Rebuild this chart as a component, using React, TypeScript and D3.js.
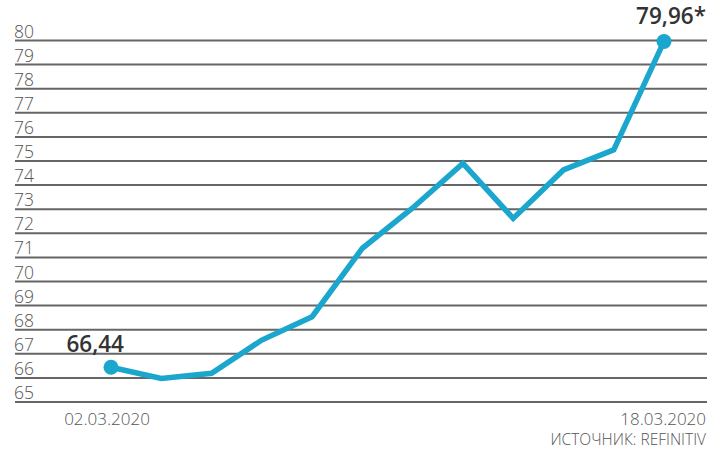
import React from "react";
import * as d3 from "d3";

const dates = ["02.03.2020", "03.03.2020", "04.03.2020", "05.03.2020", "06.03.2020", "10.03.2020", "11.03.2020", "12.03.2020", "13.03.2020", "16.03.2020", "17.03.2020", "18.03.2020"];
const values = [66.44, 65.98, 66.19, 67.57, 68.54, 71.38, 73.05, 74.9, 72.62, 74.63, 75.46, 79.96];
const yTicks = [65, 66, 67, 68, 69, 70, 71, 72, 73, 74, 75, 76, 77, 78, 79, 80];
const firstLabel = "66,44";
const lastLabel = "79,96*";
const sourceText = "ИСТОЧНИК: REFINITIV";

const W = 711;
const H = 450;
const FONT = "'Open Sans', 'Liberation Sans', sans-serif";

export default function App() {
  const x = d3.scalePoint<string>().domain(dates).range([111, 664]);
  const y = d3.scaleLinear().domain([65, 80]).range([402, 40.5]);
  const line = d3
    .line<number>()
    .x((_, i) => x(dates[i]) as number)
    .y((d) => y(d))
    .curve(d3.curveLinear);

  const n = values.length;
  const x0 = x(dates[0]) as number;
  const xN = x(dates[n - 1]) as number;

  return (
    <svg
      width={W}
      height={H}
      style={{ position: "absolute", left: 0, top: 0, background: "#fff" }}
      fontFamily={FONT}
    >
      {yTicks.map((t) => (
        <g key={t}>
          <line x1={15} x2={707} y1={y(t)} y2={y(t)} stroke="#666" strokeWidth={2} />
          <text x={14} y={y(t) - 3} fontSize={17.5} fill="#555" fontWeight={300}>
            {t}
          </text>
        </g>
      ))}
      <path
        d={line(values) || ""}
        fill="none"
        stroke="#1aa6cd"
        strokeWidth={5.5}
        strokeLinejoin="miter"
        strokeLinecap="round"
      />
      <circle cx={x0} cy={y(values[0])} r={7.5} fill="#1aa6cd" />
      <circle cx={xN} cy={y(values[n - 1])} r={7.5} fill="#1aa6cd" />
      <text x={124} y={352} textAnchor="end" fontSize={22.5} fontWeight={600} fill="#333">
        {firstLabel}
      </text>
      <text x={706} y={24} textAnchor="end" fontSize={22.5} fontWeight={600} fill="#333">
        {lastLabel}
      </text>
      <text x={x0 - 4} y={425} textAnchor="middle" fontSize={17} fill="#555" fontWeight={300}>
        {dates[0]}
      </text>
      <text x={706} y={425} textAnchor="end" fontSize={17} fill="#555" fontWeight={300}>
        {dates[n - 1]}
      </text>
      <text x={706} y={445} textAnchor="end" fontSize={15.5} fill="#555" fontWeight={300}>
        {sourceText}
      </text>
    </svg>
  );
}
